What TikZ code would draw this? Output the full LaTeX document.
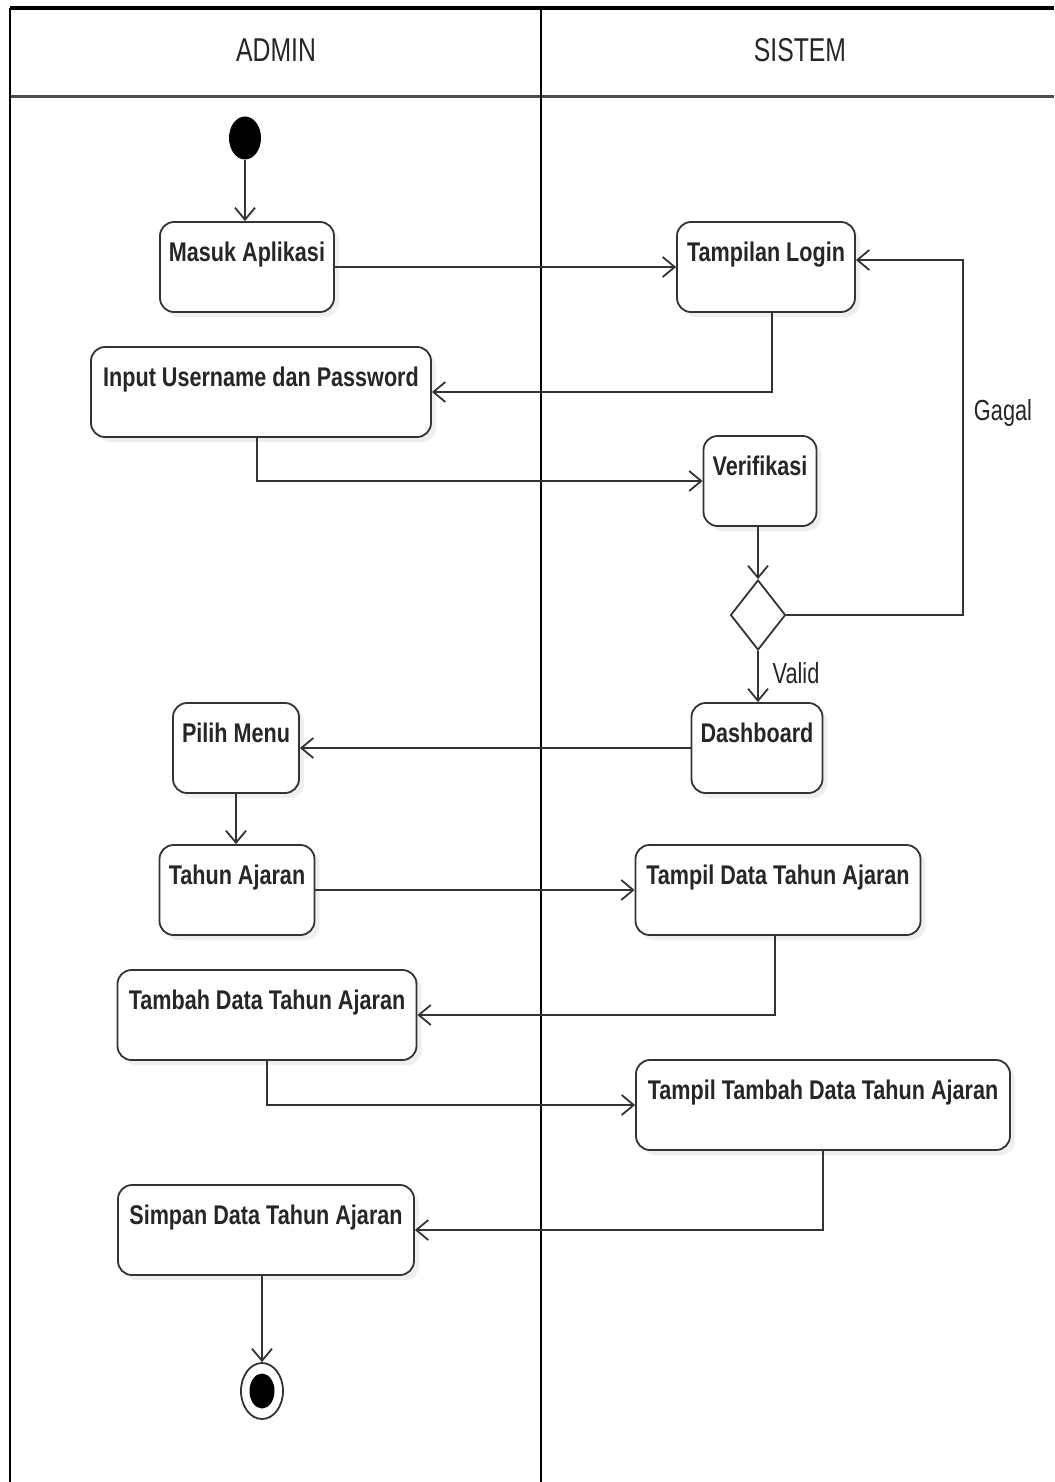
\documentclass[tikz,border=0pt]{standalone}
\usepackage{fontspec}
\setmainfont{Liberation Sans}[FakeStretch=0.8]
\newfontfamily\narrowfont{Liberation Sans}[FakeStretch=0.75]
\usetikzlibrary{arrows.meta,shapes.geometric,shadows}
\definecolor{ink}{HTML}{333333}
\begin{document}
\begin{tikzpicture}[x=1pt,y=-1pt,
  act/.style={draw=ink, line width=1.8pt, rounded corners=14pt, fill=white,
    inner xsep=4pt, inner ysep=4pt, text height=35pt, text depth=47pt,
    font=\bfseries\fontsize{27}{30}\selectfont, text=black!85,
    drop shadow={opacity=0.12, shadow xshift=5pt, shadow yshift=-5pt}},
  flow/.style={draw=ink, line width=1.8pt,
    -{Straight Barb[length=12pt,width=20pt,line width=1.8pt]}},
  lane/.style={draw=black, line width=1.8pt},
  lbl/.style={font=\narrowfont\fontsize{29}{32}\selectfont, text=black!85},
  head/.style={font=\narrowfont\fontsize{33}{36}\selectfont, text=black!85}]

% page and swimlanes
\useasboundingbox (0,0) rectangle (1054,1482);
\fill[white] (0,0) rectangle (1054,1482);
\draw[lane, line width=3.5pt] (10,8) -- (1054,8);
\draw[lane, line width=3pt, draw=black!70] (10,97) -- (1054,97);
\draw[lane] (10,8) -- (10,1482);
\draw[lane] (541,8) -- (541,1482);
\node[head] (hadmin) at (276,50) {ADMIN};
\node[head] (hsistem) at (800,50) {SISTEM};

% initial and final states
\node[ellipse, fill=black, minimum width=32pt, minimum height=43pt, inner sep=0pt] (start) at (245,138) {};
\node[ellipse, draw=ink, line width=1.8pt, fill=white, minimum width=42pt, minimum height=56pt, inner sep=0pt] (stop) at (262,1391) {};
\node[ellipse, fill=black, minimum width=25pt, minimum height=35pt, inner sep=0pt] (stopdot) at (stop) {};

% activities
\node[act, minimum width=174pt] (masuk) at (247,267) {Masuk Aplikasi};
\node[act, minimum width=178pt] (login) at (766,267) {Tampilan Login};
\node[act, minimum width=340pt] (input) at (261,392) {Input Username dan Password};
\node[act, minimum width=113pt] (verif) at (760,481) {Verifikasi};
\node[diamond, draw=ink, line width=1.8pt, fill=white, minimum width=55pt, minimum height=70pt, inner sep=0pt] (dec) at (758,615) {};
\node[act, minimum width=131pt] (dash) at (757,748) {Dashboard};
\node[act, minimum width=126pt] (pilih) at (236,748) {Pilih Menu};
\node[act, minimum width=155pt] (tahun) at (237,890) {Tahun Ajaran};
\node[act, minimum width=285pt] (tampil) at (778,890) {Tampil Data Tahun Ajaran};
\node[act, minimum width=299pt] (tambah) at (267,1015) {Tambah Data Tahun Ajaran};
\node[act, minimum width=374pt] (tampiltambah) at (823,1105) {Tampil Tambah Data Tahun Ajaran};
\node[act, minimum width=296pt] (simpan) at (266,1230) {Simpan Data Tahun Ajaran};

% flows
\draw[flow] (start.south) -- (start.south |- masuk.north);
\draw[flow] (masuk.east) -- (login.west);
\draw[flow] ([xshift=6pt]login.south) |- (input.east);
\draw[flow] ([xshift=-4pt]input.south) |- (verif.west);
\draw[flow] (verif.south -| dec.north) -- (dec.north);
\coordinate (gk) at (963,260);
\draw[flow] (dec.east) -| (gk) -- (gk -| login.east);
\node[lbl] (gagal) at (1003,413) {Gagal};
\draw[flow] (dec.south) -- (dec.south |- dash.north);
\node[lbl] (valid) at (796,673) {Valid};
\draw[flow] (dash.west) -- (pilih.east);
\draw[flow] (pilih.south) -- (pilih.south |- tahun.north);
\draw[flow] (tahun.east) -- (tampil.west);
\draw[flow] ([xshift=-3pt]tampil.south) |- (tambah.east);
\draw[flow] (tambah.south) |- (tampiltambah.west);
\draw[flow] (tampiltambah.south) |- (simpan.east);
\draw[flow] (simpan.south -| stop.north) -- (stop.north);
\end{tikzpicture}
\end{document}
